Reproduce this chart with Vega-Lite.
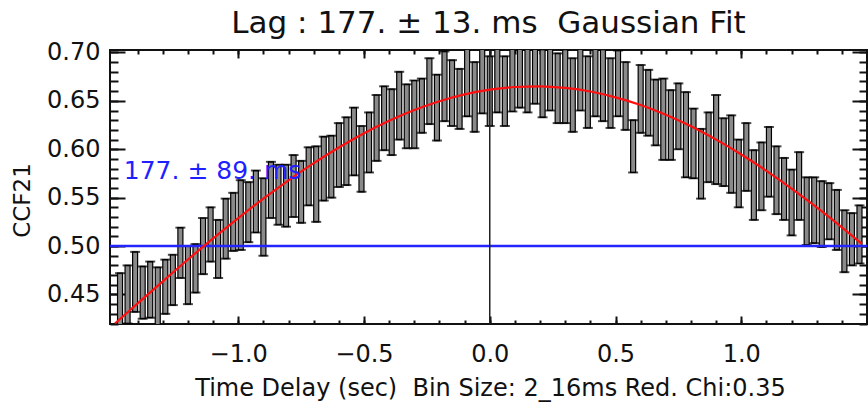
{
  "$schema": "https://vega.github.io/schema/vega-lite/v6.json",
  "width": 757,
  "height": 274,
  "autosize": {"type": "none"},
  "padding": {"left": 110, "top": 50, "right": 1, "bottom": 88},
  "background": "white",
  "title": {"text": "Lag : 177. ± 13. ms \u00a0Gaussian Fit", "fontSize": 31, "font": "DejaVu Sans", "fontWeight": "normal", "color": "#111", "anchor": "middle", "frame": "group", "offset": 10, "dy": 10},
  "config": {
    "view": {"stroke": "#111", "strokeWidth": 2},
    "axis": {"domain": false, "grid": false, "tickColor": "#111", "tickWidth": 2, "labelFont": "DejaVu Sans", "labelFontSize": 24, "labelColor": "#111", "titleFont": "DejaVu Sans", "titleFontWeight": "normal", "titleFontSize": 24, "titleColor": "#111", "labelFlush": false, "labelOverlap": false}
  },
  "resolve": {"axis": {"x": "independent", "y": "independent"}},
  "datasets": {
    "bins": [
      {"t": -1.47, "lo": 0.418, "hi": 0.472},
      {"t": -1.44, "lo": 0.420, "hi": 0.480},
      {"t": -1.41, "lo": 0.432, "hi": 0.494},
      {"t": -1.38, "lo": 0.425, "hi": 0.479},
      {"t": -1.35, "lo": 0.426, "hi": 0.484},
      {"t": -1.32, "lo": 0.418, "hi": 0.478},
      {"t": -1.29, "lo": 0.430, "hi": 0.486},
      {"t": -1.26, "lo": 0.439, "hi": 0.491},
      {"t": -1.23, "lo": 0.467, "hi": 0.519},
      {"t": -1.20, "lo": 0.440, "hi": 0.500},
      {"t": -1.17, "lo": 0.452, "hi": 0.502},
      {"t": -1.14, "lo": 0.471, "hi": 0.529},
      {"t": -1.11, "lo": 0.484, "hi": 0.540},
      {"t": -1.08, "lo": 0.467, "hi": 0.527},
      {"t": -1.05, "lo": 0.487, "hi": 0.549},
      {"t": -1.02, "lo": 0.495, "hi": 0.555},
      {"t": -0.99, "lo": 0.496, "hi": 0.568},
      {"t": -0.96, "lo": 0.504, "hi": 0.566},
      {"t": -0.93, "lo": 0.514, "hi": 0.578},
      {"t": -0.90, "lo": 0.490, "hi": 0.570},
      {"t": -0.87, "lo": 0.529, "hi": 0.587},
      {"t": -0.84, "lo": 0.522, "hi": 0.584},
      {"t": -0.81, "lo": 0.520, "hi": 0.584},
      {"t": -0.78, "lo": 0.530, "hi": 0.594},
      {"t": -0.75, "lo": 0.524, "hi": 0.588},
      {"t": -0.72, "lo": 0.542, "hi": 0.602},
      {"t": -0.69, "lo": 0.525, "hi": 0.603},
      {"t": -0.66, "lo": 0.547, "hi": 0.613},
      {"t": -0.63, "lo": 0.550, "hi": 0.614},
      {"t": -0.60, "lo": 0.561, "hi": 0.627},
      {"t": -0.57, "lo": 0.563, "hi": 0.633},
      {"t": -0.54, "lo": 0.573, "hi": 0.643},
      {"t": -0.51, "lo": 0.556, "hi": 0.624},
      {"t": -0.48, "lo": 0.576, "hi": 0.638},
      {"t": -0.45, "lo": 0.588, "hi": 0.656},
      {"t": -0.42, "lo": 0.599, "hi": 0.665},
      {"t": -0.39, "lo": 0.594, "hi": 0.662},
      {"t": -0.36, "lo": 0.610, "hi": 0.680},
      {"t": -0.33, "lo": 0.601, "hi": 0.667},
      {"t": -0.30, "lo": 0.601, "hi": 0.671},
      {"t": -0.27, "lo": 0.617, "hi": 0.673},
      {"t": -0.24, "lo": 0.626, "hi": 0.694},
      {"t": -0.21, "lo": 0.609, "hi": 0.677},
      {"t": -0.18, "lo": 0.629, "hi": 0.701},
      {"t": -0.15, "lo": 0.624, "hi": 0.692},
      {"t": -0.12, "lo": 0.621, "hi": 0.683},
      {"t": -0.09, "lo": 0.634, "hi": 0.706},
      {"t": -0.06, "lo": 0.618, "hi": 0.690},
      {"t": -0.03, "lo": 0.637, "hi": 0.707},
      {"t": 0.00, "lo": 0.624, "hi": 0.696},
      {"t": 0.03, "lo": 0.638, "hi": 0.712},
      {"t": 0.06, "lo": 0.624, "hi": 0.696},
      {"t": 0.09, "lo": 0.639, "hi": 0.711},
      {"t": 0.12, "lo": 0.643, "hi": 0.717},
      {"t": 0.15, "lo": 0.638, "hi": 0.710},
      {"t": 0.18, "lo": 0.647, "hi": 0.719},
      {"t": 0.21, "lo": 0.633, "hi": 0.703},
      {"t": 0.24, "lo": 0.640, "hi": 0.712},
      {"t": 0.27, "lo": 0.627, "hi": 0.699},
      {"t": 0.30, "lo": 0.627, "hi": 0.703},
      {"t": 0.33, "lo": 0.618, "hi": 0.694},
      {"t": 0.36, "lo": 0.640, "hi": 0.710},
      {"t": 0.39, "lo": 0.622, "hi": 0.696},
      {"t": 0.42, "lo": 0.634, "hi": 0.706},
      {"t": 0.45, "lo": 0.629, "hi": 0.703},
      {"t": 0.48, "lo": 0.622, "hi": 0.694},
      {"t": 0.51, "lo": 0.634, "hi": 0.702},
      {"t": 0.54, "lo": 0.620, "hi": 0.690},
      {"t": 0.57, "lo": 0.576, "hi": 0.630},
      {"t": 0.60, "lo": 0.617, "hi": 0.687},
      {"t": 0.63, "lo": 0.614, "hi": 0.682},
      {"t": 0.66, "lo": 0.604, "hi": 0.672},
      {"t": 0.69, "lo": 0.589, "hi": 0.673},
      {"t": 0.72, "lo": 0.589, "hi": 0.661},
      {"t": 0.75, "lo": 0.600, "hi": 0.668},
      {"t": 0.78, "lo": 0.571, "hi": 0.659},
      {"t": 0.81, "lo": 0.570, "hi": 0.642},
      {"t": 0.84, "lo": 0.549, "hi": 0.621},
      {"t": 0.87, "lo": 0.566, "hi": 0.638},
      {"t": 0.90, "lo": 0.564, "hi": 0.656},
      {"t": 0.93, "lo": 0.562, "hi": 0.632},
      {"t": 0.96, "lo": 0.555, "hi": 0.635},
      {"t": 0.99, "lo": 0.540, "hi": 0.610},
      {"t": 1.02, "lo": 0.557, "hi": 0.627},
      {"t": 1.05, "lo": 0.527, "hi": 0.599},
      {"t": 1.08, "lo": 0.537, "hi": 0.607},
      {"t": 1.11, "lo": 0.551, "hi": 0.623},
      {"t": 1.14, "lo": 0.533, "hi": 0.603},
      {"t": 1.17, "lo": 0.527, "hi": 0.591},
      {"t": 1.20, "lo": 0.511, "hi": 0.579},
      {"t": 1.23, "lo": 0.527, "hi": 0.597},
      {"t": 1.26, "lo": 0.501, "hi": 0.571},
      {"t": 1.29, "lo": 0.503, "hi": 0.571},
      {"t": 1.32, "lo": 0.499, "hi": 0.567},
      {"t": 1.35, "lo": 0.507, "hi": 0.565},
      {"t": 1.38, "lo": 0.496, "hi": 0.558},
      {"t": 1.41, "lo": 0.473, "hi": 0.537},
      {"t": 1.44, "lo": 0.480, "hi": 0.534},
      {"t": 1.47, "lo": 0.482, "hi": 0.542}
    ],
    "fit": [
      {"t": -1.49, "f": 0.4201},
      {"t": -1.4, "f": 0.4408},
      {"t": -1.3, "f": 0.4636},
      {"t": -1.2, "f": 0.4861},
      {"t": -1.1, "f": 0.5079},
      {"t": -1.0, "f": 0.5289},
      {"t": -0.9, "f": 0.5490},
      {"t": -0.8, "f": 0.5679},
      {"t": -0.7, "f": 0.5856},
      {"t": -0.6, "f": 0.6018},
      {"t": -0.5, "f": 0.6165},
      {"t": -0.4, "f": 0.6294},
      {"t": -0.3, "f": 0.6405},
      {"t": -0.2, "f": 0.6496},
      {"t": -0.1, "f": 0.6566},
      {"t": 0.0, "f": 0.6615},
      {"t": 0.1, "f": 0.6643},
      {"t": 0.2, "f": 0.6650},
      {"t": 0.3, "f": 0.6633},
      {"t": 0.4, "f": 0.6596},
      {"t": 0.5, "f": 0.6536},
      {"t": 0.6, "f": 0.6457},
      {"t": 0.7, "f": 0.6356},
      {"t": 0.8, "f": 0.6237},
      {"t": 0.9, "f": 0.6099},
      {"t": 1.0, "f": 0.5946},
      {"t": 1.1, "f": 0.5777},
      {"t": 1.2, "f": 0.5593},
      {"t": 1.3, "f": 0.5399},
      {"t": 1.4, "f": 0.5194},
      {"t": 1.48, "f": 0.5022}
    ],
    "notes": [
      {"t": -1.455, "y": 0.578, "label": "177. ± 89. ms"}
    ]
  },
  "layer": [
    {
      "data": {"name": "bins"},
      "mark": {"type": "bar", "width": 5, "fill": "#8a8a8a", "stroke": "#000", "strokeWidth": 1.2, "clip": true},
      "encoding": {
        "x": {"field": "t", "type": "quantitative", "scale": {"domain": [-1.49, 1.48], "nice": false, "zero": false},
          "axis": {"orient": "bottom", "offset": -8, "values": [-1.0, -0.5, 0.0, 0.5, 1.0], "format": ".1f", "tickSize": 8, "labelPadding": 18,
            "title": "Time Delay (sec) \u00a0Bin Size: 2_16ms Red. Chi:0.35", "titleX": 380, "titleY": 72, "titleBaseline": "middle", "titleAlign": "center"}},
        "y": {"field": "lo", "type": "quantitative", "scale": {"domain": [0.4195, 0.7025], "nice": false, "zero": false},
          "axis": {"orient": "left", "offset": -15, "values": [0.45, 0.5, 0.55, 0.6, 0.65, 0.7], "format": ".2f", "tickSize": 15, "labelPadding": 10,
            "title": "CCF21", "titleX": -103, "titleY": 150, "titleAngle": 270, "titleAlign": "center", "titleBaseline": "middle", "titleFontSize": 23}},
        "y2": {"field": "hi"}
      }
    },
    {
      "data": {"name": "bins"},
      "mark": {"type": "tick", "orient": "horizontal", "color": "#000", "size": 10, "thickness": 2, "clip": true},
      "encoding": {
        "x": {"field": "t", "type": "quantitative", "scale": {"domain": [-1.49, 1.48], "nice": false, "zero": false},
          "axis": {"orient": "bottom", "offset": -4, "values": [-1.4, -1.3, -1.2, -1.1, -1.0, -0.9, -0.8, -0.7, -0.6, -0.5, -0.4, -0.3, -0.2, -0.1, 0.0, 0.1, 0.2, 0.3, 0.4, 0.5, 0.6, 0.7, 0.8, 0.9, 1.0, 1.1, 1.2, 1.3, 1.4], "labels": false, "tickSize": 4, "title": null}},
        "y": {"field": "lo", "type": "quantitative", "scale": {"domain": [0.4195, 0.7025], "nice": false, "zero": false},
          "axis": {"orient": "left", "offset": -8, "values": [0.42, 0.43, 0.44, 0.45, 0.46, 0.47, 0.48, 0.49, 0.5, 0.51, 0.52, 0.53, 0.54, 0.55, 0.56, 0.57, 0.58, 0.59, 0.6, 0.61, 0.62, 0.63, 0.64, 0.65, 0.66, 0.67, 0.68, 0.69, 0.7], "labels": false, "tickSize": 8, "title": null}}
      }
    },
    {
      "data": {"name": "bins"},
      "mark": {"type": "tick", "orient": "horizontal", "color": "#000", "size": 10, "thickness": 2, "clip": true},
      "encoding": {
        "x": {"field": "t", "type": "quantitative", "scale": {"domain": [-1.49, 1.48], "nice": false, "zero": false},
          "axis": {"orient": "top", "offset": -8, "values": [-1.0, -0.5, 0.0, 0.5, 1.0], "labels": false, "tickSize": 8, "title": null}},
        "y": {"field": "hi", "type": "quantitative", "scale": {"domain": [0.4195, 0.7025], "nice": false, "zero": false},
          "axis": {"orient": "right", "offset": -15, "values": [0.45, 0.5, 0.55, 0.6, 0.65, 0.7], "labels": false, "tickSize": 15, "title": null}}
      }
    },
    {
      "data": {"values": [{"h": 0.5}]},
      "mark": {"type": "rule", "color": "#2424ff", "strokeWidth": 2.5},
      "encoding": {
        "y": {"field": "h", "type": "quantitative", "scale": {"domain": [0.4195, 0.7025], "nice": false, "zero": false}, "axis": null}
      }
    },
    {
      "data": {"values": [{"z": 0}]},
      "mark": {"type": "rule", "color": "#222", "strokeWidth": 1.5},
      "encoding": {
        "x": {"field": "z", "type": "quantitative", "scale": {"domain": [-1.49, 1.48], "nice": false, "zero": false}, "axis": null}
      }
    },
    {
      "data": {"name": "fit"},
      "mark": {"type": "line", "color": "#ff1010", "strokeWidth": 2.2, "interpolate": "monotone", "clip": true},
      "encoding": {
        "x": {"field": "t", "type": "quantitative", "scale": {"domain": [-1.49, 1.48], "nice": false, "zero": false},
          "axis": {"orient": "top", "offset": -4, "values": [-1.4, -1.3, -1.2, -1.1, -1.0, -0.9, -0.8, -0.7, -0.6, -0.5, -0.4, -0.3, -0.2, -0.1, 0.0, 0.1, 0.2, 0.3, 0.4, 0.5, 0.6, 0.7, 0.8, 0.9, 1.0, 1.1, 1.2, 1.3, 1.4], "labels": false, "tickSize": 4, "title": null}},
        "y": {"field": "f", "type": "quantitative", "scale": {"domain": [0.4195, 0.7025], "nice": false, "zero": false},
          "axis": {"orient": "right", "offset": -8, "values": [0.42, 0.43, 0.44, 0.45, 0.46, 0.47, 0.48, 0.49, 0.5, 0.51, 0.52, 0.53, 0.54, 0.55, 0.56, 0.57, 0.58, 0.59, 0.6, 0.61, 0.62, 0.63, 0.64, 0.65, 0.66, 0.67, 0.68, 0.69, 0.7], "labels": false, "tickSize": 8, "title": null}}
      }
    },
    {
      "data": {"name": "notes"},
      "mark": {"type": "text", "color": "#1f1fff", "font": "DejaVu Sans", "fontSize": 25, "align": "left", "baseline": "middle"},
      "encoding": {
        "x": {"field": "t", "type": "quantitative", "scale": {"domain": [-1.49, 1.48], "nice": false, "zero": false}, "axis": null},
        "y": {"field": "y", "type": "quantitative", "scale": {"domain": [0.4195, 0.7025], "nice": false, "zero": false}, "axis": null},
        "text": {"field": "label"}
      }
    }
  ]
}
